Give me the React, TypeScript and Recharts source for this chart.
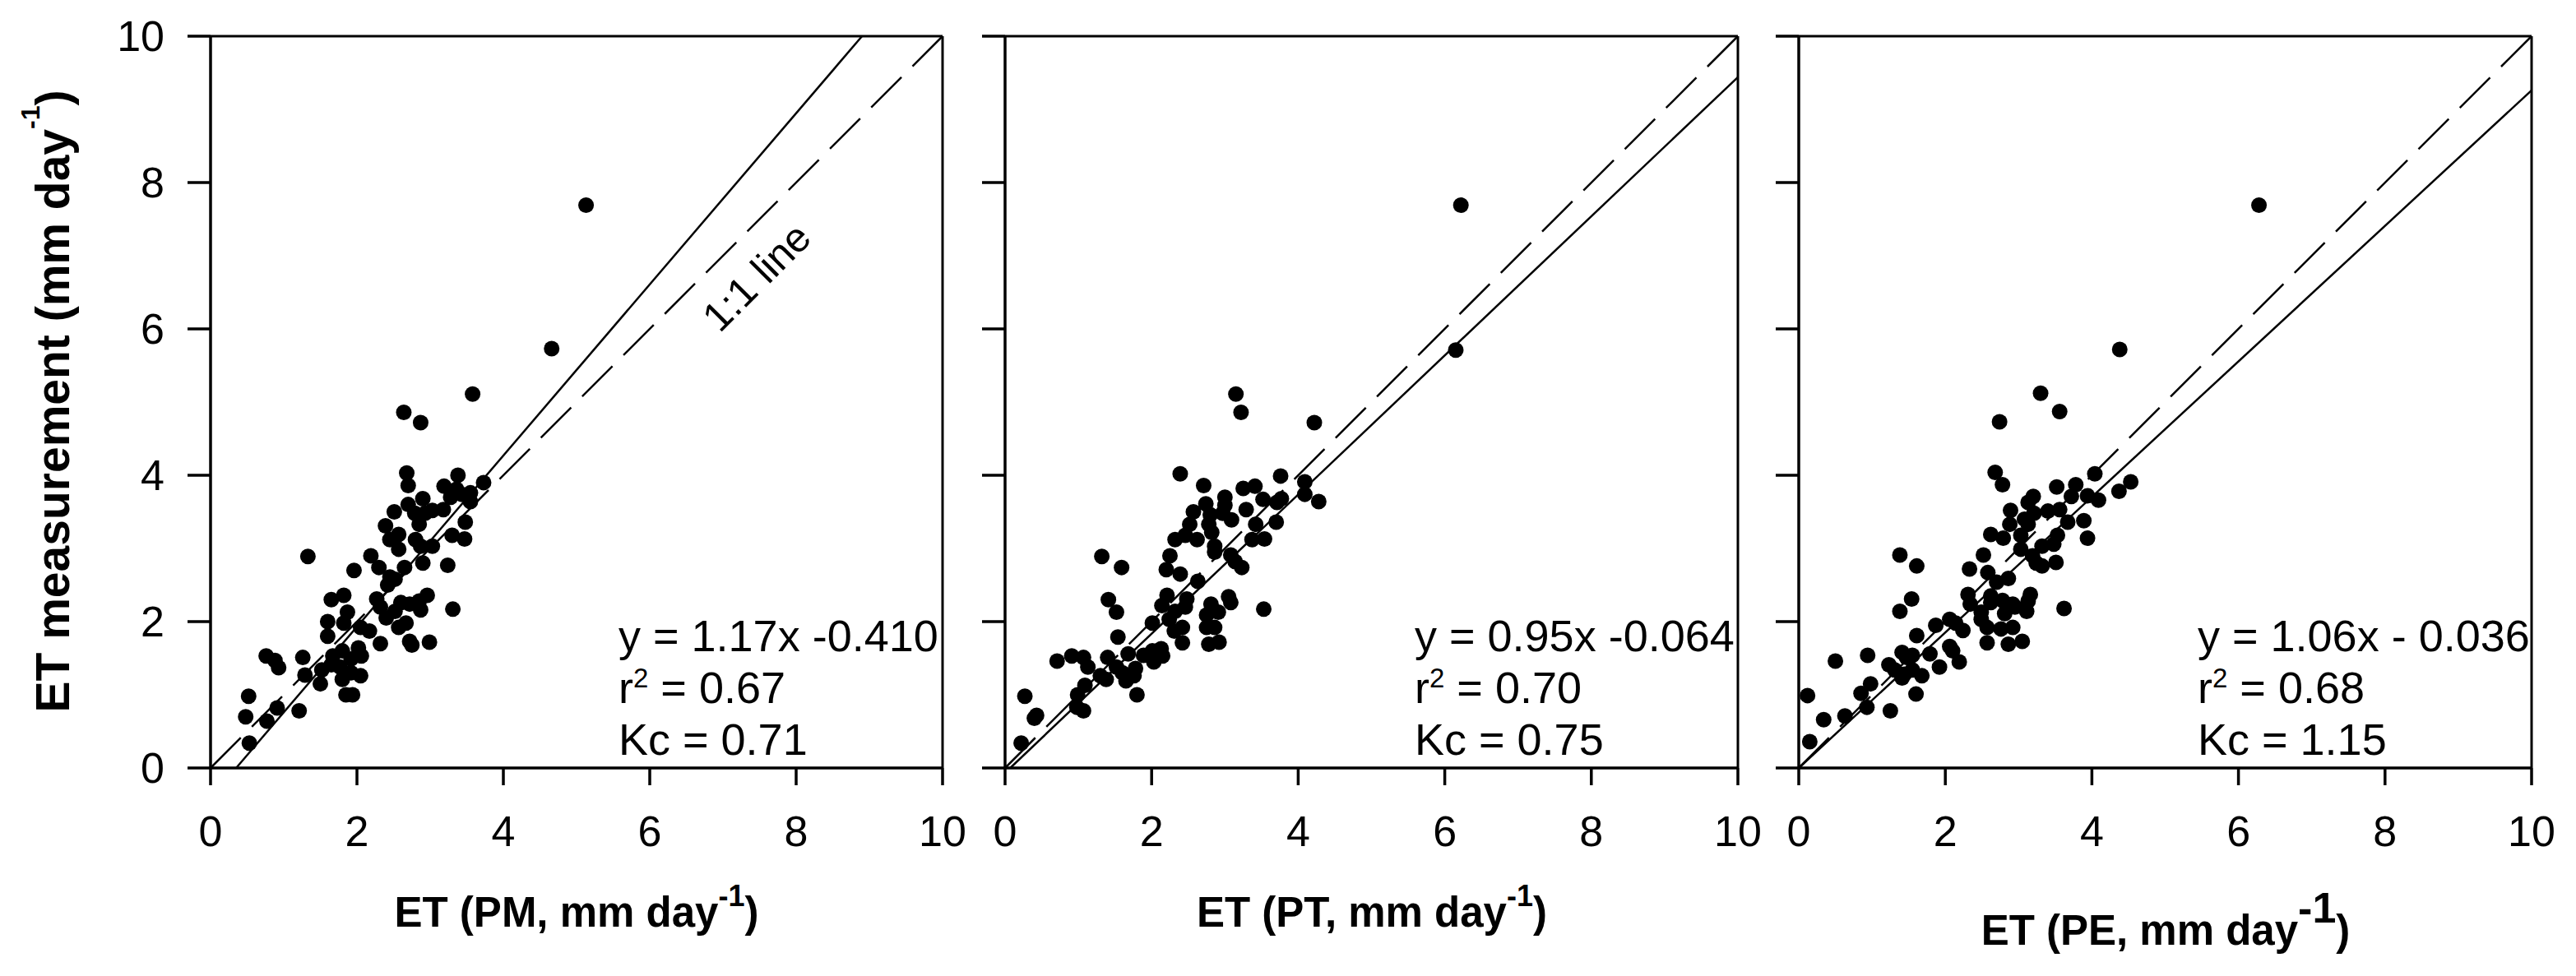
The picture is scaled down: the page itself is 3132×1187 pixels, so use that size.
import { ReferenceLine, Scatter, ScatterChart, XAxis, YAxis } from "recharts";

const FONT = "'Liberation Sans', Arial, Helvetica, sans-serif";

const axisTicks = [0, 2, 4, 6, 8, 10];

const pmPoints = [
  [5.13, 7.69], [4.66, 5.73], [3.58, 5.11], [2.64, 4.86], [2.87, 4.72],
  [2.68, 4.03], [2.7, 3.86], [3.38, 4.0], [3.73, 3.9], [3.19, 3.85], [3.36, 3.81], [3.55, 3.76],
  [3.28, 3.7], [2.9, 3.68], [2.7, 3.6], [3.55, 3.64], [3.43, 3.74], [2.51, 3.5], [3.03, 3.52],
  [3.18, 3.53], [2.93, 3.48], [2.79, 3.48], [2.39, 3.31], [2.85, 3.33], [3.48, 3.36], [2.57, 3.19],
  [2.45, 3.12], [2.8, 3.12], [3.03, 3.03], [3.3, 3.18], [3.47, 3.13], [2.87, 3.03], [2.19, 2.9],
  [2.57, 2.99], [1.33, 2.89], [1.96, 2.7], [2.3, 2.74], [2.45, 2.61], [2.65, 2.74], [2.52, 2.58],
  [2.9, 2.8], [3.24, 2.77], [2.42, 2.5], [2.27, 2.31], [1.65, 2.3], [1.82, 2.36], [2.6, 2.26],
  [2.96, 2.36], [2.85, 2.28], [2.32, 2.2], [2.72, 2.24], [2.87, 2.16], [3.31, 2.17], [1.87, 2.13],
  [1.6, 2.0], [2.4, 2.05], [2.52, 2.14], [1.82, 1.98], [2.57, 1.92], [2.67, 1.98], [2.05, 1.92],
  [2.17, 1.87], [1.6, 1.8], [2.32, 1.7], [2.72, 1.73], [2.75, 1.68], [2.99, 1.72], [2.02, 1.64],
  [0.76, 1.53], [0.88, 1.47], [0.93, 1.37], [1.26, 1.51], [1.67, 1.53], [1.8, 1.6], [1.92, 1.49],
  [2.06, 1.53], [1.29, 1.27], [1.52, 1.34], [1.65, 1.41], [1.77, 1.38], [1.92, 1.3], [2.05, 1.26],
  [1.5, 1.15], [1.8, 1.21], [1.85, 1.0], [1.94, 1.0], [0.52, 0.98], [0.91, 0.82], [0.48, 0.7],
  [0.77, 0.64], [1.21, 0.78], [0.53, 0.34],
];

const ptPoints = [
  [6.22, 7.69], [6.15, 5.71], [3.15, 5.11], [3.22, 4.86], [4.22, 4.72], [2.39, 4.02], [2.71, 3.86],
  [3.76, 3.99], [4.09, 3.91], [4.09, 3.74], [4.28, 3.64], [3.25, 3.82], [3.41, 3.85], [3.52, 3.67],
  [3.77, 3.68], [3.71, 3.63], [3.0, 3.7], [3.0, 3.59], [2.74, 3.61], [2.57, 3.5], [2.97, 3.48],
  [3.09, 3.39], [3.29, 3.53], [2.8, 3.46], [2.52, 3.33], [2.78, 3.33], [2.82, 3.22], [2.62, 3.12],
  [2.46, 3.18], [2.32, 3.12], [3.42, 3.33], [3.7, 3.36], [3.37, 3.12], [3.54, 3.13], [2.86, 3.03],
  [2.86, 2.95], [2.25, 2.9], [1.32, 2.89], [1.59, 2.74], [3.08, 2.91], [3.14, 2.82], [3.23, 2.74],
  [2.2, 2.71], [2.39, 2.65], [2.63, 2.55], [2.21, 2.36], [1.41, 2.3], [2.48, 2.31], [3.05, 2.34],
  [3.08, 2.26], [2.14, 2.22], [1.52, 2.13], [2.32, 2.14], [2.46, 2.2], [2.81, 2.24], [2.75, 2.09],
  [2.91, 2.13], [3.53, 2.17], [2.01, 1.98], [2.24, 2.03], [2.75, 1.92], [2.86, 1.92], [2.42, 1.92],
  [2.31, 1.87], [1.54, 1.79], [2.42, 1.71], [2.78, 1.69], [2.92, 1.72], [0.71, 1.46], [0.91, 1.53],
  [1.07, 1.51], [1.13, 1.38], [1.4, 1.51], [1.68, 1.56], [1.89, 1.54], [2.01, 1.6], [2.13, 1.63],
  [2.15, 1.53], [2.03, 1.45], [1.3, 1.26], [1.38, 1.21], [1.52, 1.38], [1.6, 1.3], [1.65, 1.19],
  [1.76, 1.26], [1.78, 1.36], [1.8, 1.0], [1.09, 1.13], [0.99, 1.0], [0.98, 0.83], [1.07, 0.78],
  [0.27, 0.98], [0.4, 0.68], [0.43, 0.72], [0.22, 0.34],
];

const pePoints = [
  [6.28, 7.69], [4.38, 5.72], [3.3, 5.12], [3.56, 4.87], [2.74, 4.73], [2.68, 4.04], [2.78, 3.87],
  [4.04, 4.02], [4.53, 3.91], [4.37, 3.78], [3.52, 3.84], [3.78, 3.87], [4.09, 3.66], [3.94, 3.72],
  [3.72, 3.71], [3.2, 3.71], [3.13, 3.63], [2.89, 3.52], [3.4, 3.51], [3.56, 3.53], [3.21, 3.48],
  [3.08, 3.4], [2.88, 3.33], [3.13, 3.33], [2.62, 3.19], [2.79, 3.14], [3.03, 3.18], [3.67, 3.36],
  [3.89, 3.38], [3.94, 3.14], [3.53, 3.18], [3.48, 3.06], [3.32, 3.03], [3.03, 2.99], [1.38, 2.91],
  [2.52, 2.91], [1.61, 2.76], [3.19, 2.9], [3.24, 2.8], [3.32, 2.76], [3.51, 2.81], [2.33, 2.72],
  [2.58, 2.67], [2.7, 2.54], [2.86, 2.59], [1.54, 2.31], [1.38, 2.14], [2.31, 2.37], [2.34, 2.24],
  [2.62, 2.35], [2.62, 2.26], [2.78, 2.29], [2.92, 2.24], [3.16, 2.37], [3.13, 2.28], [3.62, 2.18],
  [2.49, 2.13], [2.81, 2.11], [2.95, 2.2], [3.11, 2.14], [2.06, 2.03], [2.14, 1.98], [2.24, 1.88],
  [1.87, 1.95], [2.49, 2.03], [2.57, 1.92], [2.92, 1.92], [2.76, 1.9], [1.61, 1.81], [2.57, 1.71],
  [2.86, 1.69], [3.05, 1.73], [0.5, 1.46], [0.94, 1.54], [1.41, 1.58], [1.47, 1.51], [1.55, 1.54],
  [1.79, 1.56], [2.06, 1.66], [2.1, 1.6], [2.19, 1.45], [1.92, 1.38], [1.23, 1.41], [1.31, 1.34],
  [1.44, 1.28], [1.55, 1.34], [1.68, 1.26], [1.41, 1.23], [1.6, 1.01], [0.98, 1.15], [0.85, 1.02],
  [0.12, 0.99], [0.93, 0.83], [0.63, 0.71], [1.25, 0.78], [0.34, 0.66], [0.15, 0.36],
];

// regression lines as drawn (end points inside the 0-10 box)
const pmFit = [{ x: 0.35, y: 0 }, { x: 8.9, y: 10 }];
const ptFit = [{ x: 0.07, y: 0 }, { x: 10, y: 9.44 }];
const peFit = [{ x: 0, y: 0 }, { x: 10, y: 9.26 }];
const oneToOne = [{ x: 0, y: 0 }, { x: 10, y: 10 }];

const pmStats = ["y = 1.17x -0.410", "0.67", "0.71"];
const ptStats = ["y = 0.95x -0.064", "0.70", "0.75"];
const peStats = ["y = 1.06x - 0.036", "0.68", "1.15"];

const axisStyle = { stroke: "#000", strokeWidth: 3.5 };
const tickFont = { fill: "#000", fontSize: 52, fontFamily: FONT };

const Dot = (p: any) => <circle cx={p.cx} cy={p.cy} r={9.5} fill="#000" />;

function Panel({
  points, fit, left, width, marginLeft, marginRight, yLabels,
}: {
  points: number[][];
  fit: { x: number; y: number }[];
  left: number;
  width: number;
  marginLeft: number;
  marginRight: number;
  yLabels: boolean;
}) {
  const data = points.map(([x, y]) => ({ x, y }));
  return (
    <div style={{ position: "absolute", left, top: 0 }}>
      <ScatterChart
        width={width}
        height={1187}
        margin={{ top: 44, right: marginRight, bottom: 213, left: marginLeft }}
      >
        <XAxis
          type="number"
          dataKey="x"
          domain={[0, 10]}
          ticks={axisTicks}
          interval={0}
          allowDataOverflow
          height={40}
          tickSize={21}
          tickMargin={37}
          axisLine={axisStyle}
          tickLine={axisStyle}
          tick={tickFont}
        />
        <YAxis
          type="number"
          dataKey="y"
          domain={[0, 10]}
          ticks={axisTicks}
          interval={0}
          allowDataOverflow
          width={40}
          tickSize={28}
          tickMargin={28}
          axisLine={axisStyle}
          tickLine={axisStyle}
          tick={tickFont}
          tickFormatter={yLabels ? undefined : () => ""}
        />
        <ReferenceLine y={10} stroke="#000" strokeWidth={3} />
        <ReferenceLine x={10} stroke="#000" strokeWidth={3} />
        <ReferenceLine segment={oneToOne} stroke="#000" strokeWidth={2.5} strokeDasharray="52 19" />
        <ReferenceLine segment={fit} stroke="#000" strokeWidth={2.5} />
        <Scatter data={data} isAnimationActive={false} shape={Dot} />
      </ScatterChart>
    </div>
  );
}

function Stats({ lines, left }: { lines: string[]; left: number }) {
  return (
    <div
      style={{
        position: "absolute",
        left,
        top: 742,
        fontSize: 54,
        lineHeight: "63px",
        whiteSpace: "nowrap",
      }}
    >
      <div>{lines[0]}</div>
      <div>
        r<span style={{ fontSize: 33, position: "relative", top: -19, lineHeight: 0 }}>2</span> = {lines[1]}
      </div>
      <div>Kc = {lines[2]}</div>
    </div>
  );
}

function XTitle({ label, cx, baseline, supSize, supRaise }: { label: string; cx: number; baseline: number; supSize: number; supRaise: number }) {
  return (
    <div
      style={{
        position: "absolute",
        left: cx - 400,
        width: 800,
        top: baseline - 48,
        textAlign: "center",
        fontSize: 51,
        fontWeight: "bold",
        lineHeight: "60px",
        whiteSpace: "nowrap",
      }}
    >
      ET ({label}, mm day
      <span style={{ fontSize: supSize, position: "relative", top: -supRaise, lineHeight: 0 }}>-1</span>)
    </div>
  );
}

export default function App() {
  return (
    <div
      style={{
        position: "absolute",
        left: 0,
        top: 0,
        width: 3132,
        height: 1187,
        background: "#fff",
        fontFamily: FONT,
        color: "#000",
        overflow: "hidden",
      }}
    >
      <Panel points={pmPoints} fit={pmFit} left={0} width={1200} marginLeft={216} marginRight={54} yLabels />
      <Panel points={ptPoints} fit={ptFit} left={1160} width={1000} marginLeft={22} marginRight={47} yLabels={false} />
      <Panel points={pePoints} fit={peFit} left={2130} width={1002} marginLeft={17} marginRight={54} yLabels={false} />

      <Stats lines={pmStats} left={752} />
      <Stats lines={ptStats} left={1720} />
      <Stats lines={peStats} left={2672} />

      <XTitle label="PM" cx={701} baseline={1128} supSize={36} supRaise={25} />
      <XTitle label="PT" cx={1668} baseline={1128} supSize={36} supRaise={25} />
      <XTitle label="PE" cx={2633} baseline={1150} supSize={52} supRaise={27} />

      {/* y title, rotated */}
      <div
        style={{
          position: "absolute",
          left: 64 - 500,
          top: 488 - 35,
          width: 1000,
          height: 70,
          lineHeight: "70px",
          textAlign: "center",
          fontSize: 57,
          fontWeight: "bold",
          whiteSpace: "nowrap",
          transform: "rotate(-90deg)",
        }}
      >
        ET measurement (mm day
        <span style={{ fontSize: 32, position: "relative", top: -36, lineHeight: 0 }}>-1</span>)
      </div>

      {/* 1:1 line label */}
      <div
        style={{
          position: "absolute",
          left: 920 - 150,
          top: 337 - 30,
          width: 300,
          height: 60,
          lineHeight: "60px",
          textAlign: "center",
          fontSize: 50,
          whiteSpace: "nowrap",
          transform: "rotate(-45deg)",
        }}
      >
        1:1 line
      </div>
    </div>
  );
}
